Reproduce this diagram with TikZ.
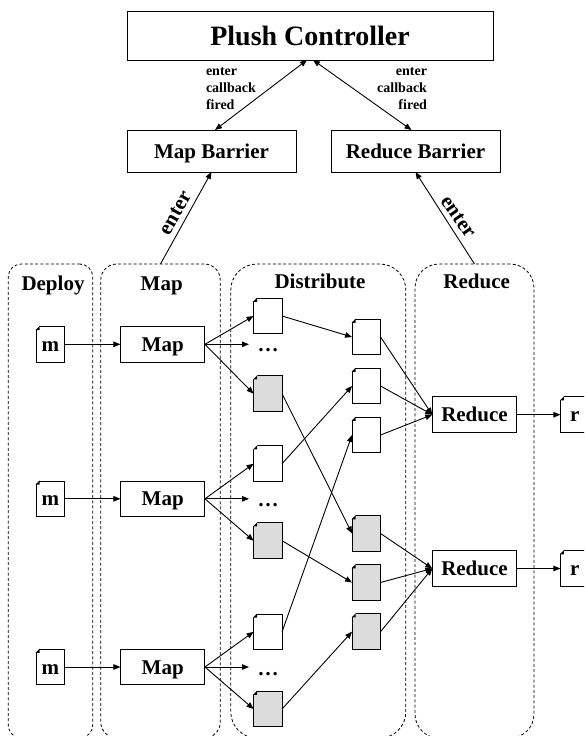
\documentclass[tikz,border=0pt]{standalone}
\usepackage{fontspec}
\setmainfont{Liberation Serif}
\usetikzlibrary{arrows.meta}
\definecolor{docgray}{HTML}{DCDCDC}
\tikzset{
  every node/.style={font=\bfseries\fontsize{21}{24}\selectfont,outer sep=0pt,inner sep=0pt},
  boxnode/.style={draw=black,line width=1pt,fill=white,text height=14pt,text depth=0pt},
  docnode/.style={boxnode,minimum width=28.5pt,minimum height=35.5pt},
  graydoc/.style={docnode,fill=docgray},
  mapbox/.style={boxnode,minimum width=84.5pt,minimum height=35.5pt},
  barrier/.style={boxnode,minimum width=169pt,minimum height=42pt},
  lanebox/.style={draw=black,line width=.8pt,dash pattern=on 3pt off 2.2pt},
  lanetitle/.style={anchor=base},
  smalllabel/.style={font=\bfseries\fontsize{14}{17}\selectfont},
  conn/.style={line width=.9pt,-{Triangle[length=7pt,width=5.5pt]}},
  biconn/.style={line width=.9pt,{Triangle[length=7pt,width=5.5pt]}-{Triangle[length=7pt,width=5.5pt]}},
  dots/.style={anchor=base}
}
\begin{document}
\begin{tikzpicture}[x=1pt,y=-1pt]
\clip (0,0) rectangle (584,736);
\fill[white] (0,0) rectangle (584,736);
% lanes
\node[lanebox,rounded corners=13pt,minimum width=84.5pt,minimum height=474pt] (deploy) at (50.5,501) {};
\node[lanebox,rounded corners=16pt,minimum width=119.5pt,minimum height=474pt] (maplane) at (160.5,501) {};
\node[lanebox,rounded corners=26pt,minimum width=175pt,minimum height=474pt] (dist) at (318.3,501) {};
\node[lanebox,rounded corners=24pt,minimum width=119pt,minimum height=474pt] (redlane) at (474.5,501) {};
\node[lanetitle] (tdeploy) at (53,290) {Deploy};
\node[lanetitle] (tmap) at (161.7,290) {Map};
\node[lanetitle] (tdist) at (320,288) {Distribute};
\node[lanetitle] (tred) at (476.7,288) {Reduce};
% top
\node[boxnode,minimum width=366pt,minimum height=49pt,font=\bfseries\fontsize{28}{30}\selectfont,text height=19pt] (plush) at (310,35.5) {Plush Controller};
\node[barrier] (mapb) at (211.5,151) {Map Barrier};
\node[barrier] (redb) at (415.5,151) {Reduce Barrier};
\node[smalllabel,anchor=west,align=left] (ll) at (206,89) {enter\\callback\\fired};
\node[smalllabel,anchor=east,align=right] (lr) at (427,89) {enter\\callback\\fired};
\draw[biconn] ([xshift=-3pt]plush.south) -- ([xshift=3.5pt]mapb.north);
\draw[biconn] ([xshift=3pt]plush.south) -- ([xshift=-4pt]redb.north);
\draw[conn] (maplane.north) -- (mapb.south);
\draw[conn] (redlane.north) -- (redb.south);
\node[rotate=60.7] (el) at (175.5,213) {enter};
\node[rotate=-55] (er) at (458,217) {enter};
% row docs and maps
\node[docnode] (m1) at (50.3,344.3) {m};
\node[docnode] (m2) at (50.3,498.8) {m};
\node[docnode] (m3) at (50.3,667) {m};
\node[mapbox] (map1) at (162.7,344.3) {Map};
\node[mapbox] (map2) at (162.7,498.8) {Map};
\node[mapbox] (map3) at (162.7,667) {Map};
\node[docnode] (a1) at (267.8,316) {};
\node[docnode] (a2) at (267.8,463.7) {};
\node[docnode] (a3) at (267.8,631.8) {};
\node[graydoc] (b1) at (267.8,393.7) {};
\node[graydoc] (b2) at (267.8,540.7) {};
\node[graydoc] (b3) at (267.8,709) {};
\node[dots] (d1) at (268,351) {…};
\node[dots] (d2) at (268,506.5) {…};
\node[dots] (d3) at (268,675) {…};
\coordinate (e1) at (249,344.3);
\coordinate (e2) at (249,498.8);
\coordinate (e3) at (249,667);
\node[docnode] (c1) at (366.3,337) {};
\node[docnode] (c2) at (366.3,386) {};
\node[docnode] (c3) at (366.3,435) {};
\node[graydoc] (g1) at (366.3,533.5) {};
\node[graydoc] (g2) at (366.3,582.5) {};
\node[graydoc] (g3) at (366.3,631.7) {};
\node[mapbox] (r1) at (474.5,414.7) {Reduce};
\node[mapbox] (r2) at (474.5,568.5) {Reduce};
\node[docnode] (o1) at (574.7,414.7) {r};
\node[docnode] (o2) at (574.7,568.5) {r};
% connectors
\foreach \i in {1,2,3} {
  \draw[conn] (m\i.east) -- (map\i.west);
  \draw[conn] (map\i.east) -- (a\i.west);
  \draw[conn] (map\i.east) -- (e\i);
  \draw[conn] (map\i.east) -- (b\i.west);
}
\draw[conn] (a1.east) -- (c1.west);
\draw[conn] (b1.east) -- (g1.west);
\draw[conn] (a2.east) -- (c2.west);
\draw[conn] (b2.east) -- (g2.west);
\draw[conn] (a3.east) -- (c3.west);
\draw[conn] (b3.east) -- (g3.west);
\foreach \i in {1,2,3} {
  \draw[conn] (c\i.east) -- (r1.west);
  \draw[conn] (g\i.east) -- (r2.west);
}
\draw[conn] (r1.east) -- (o1.west);
\draw[conn] (r2.east) -- (o2.west);
% document corners
\foreach \n in {m1,m2,m3,a1,a2,a3,b1,b2,b3,c1,c2,c3,g1,g2,g3,o1,o2} {
  \fill[white] (\n.north west) ++(-1,4) -- ++(5,-5) -- ++(-5,0) -- cycle;
  \fill[black] (\n.north west) ++(-.5,3.5) -- ++(4,-4) -- ++(0,4) -- cycle;
}
\end{tikzpicture}
\end{document}
